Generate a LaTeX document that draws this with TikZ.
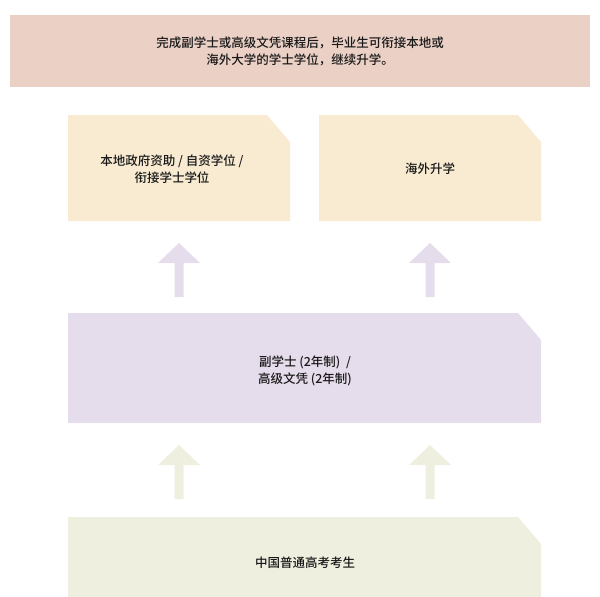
\documentclass[tikz,border=0pt]{standalone}
\usepackage{fontspec}
\setmainfont{Noto Sans CJK SC}[BoldFont={Noto Sans CJK SC Medium}]
\definecolor{banner}{HTML}{EBD0C6}
\definecolor{tan}{HTML}{F8EBD1}
\definecolor{lil}{HTML}{E6DDEC}
\definecolor{grn}{HTML}{EFEFE0}
\begin{document}
\begin{tikzpicture}[x=1pt,y=-1pt,
  txt/.style={font=\fontsize{12.5}{17}\selectfont\bfseries,align=center,text=black!90},
  uparrow/.style={fill=#1,draw=none}]
\useasboundingbox (0,0) rectangle (600,597);
\fill[banner] (10,15) rectangle (590,87);
\node[txt] (top) at (300,51) {完成副学士或高级文凭课程后，毕业生可衔接本地或\\海外大学的学士学位，继续升学。};
\def\cutbox#1#2#3#4#5{\fill[#5] (#1,#2) -- (#3-23,#2) -- (#3,#2+27) -- (#3,#4) -- (#1,#4) -- cycle;}
\cutbox{68}{115}{290}{221}{tan}
\cutbox{319}{115}{541}{221}{tan}
\cutbox{68}{313}{541}{423}{lil}
\cutbox{68}{517}{541}{597}{grn}
\node[txt] (l) at (172,169) {本地政府资助 / 自资学位 /\\衔接学士学位};
\node[txt] (r) at (430,169) {海外升学};
\node[txt] (m) at (305,371) {副学士 (2年制)~~/\\高级文凭 (2年制)};
\node[txt] (b) at (305,563) {中国普通高考考生};
\def\uarr#1#2#3{\fill[#3] (#1-4.5,#2+54) -- (#1-4.5,#2+20) -- (#1-21,#2+20) -- (#1,#2) -- (#1+21,#2+20) -- (#1+4.5,#2+20) -- (#1+4.5,#2+54) -- cycle;}
\uarr{179}{243}{lil}
\uarr{430}{243}{lil}
\uarr{179}{445}{grn}
\uarr{430}{445}{grn}
\end{tikzpicture}
\end{document}
